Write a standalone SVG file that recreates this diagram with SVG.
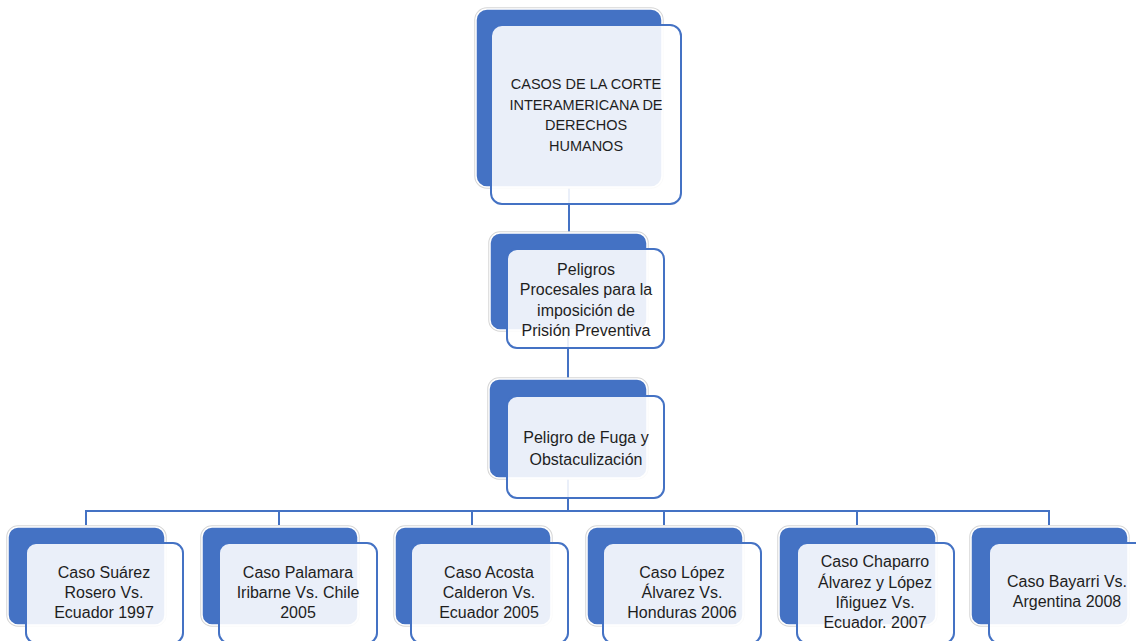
<svg xmlns="http://www.w3.org/2000/svg" width="1136" height="641" viewBox="0 0 1136 641">
<style>
.halo{fill:none;stroke:#d6d6d6;stroke-width:3.5}
.back{fill:#4472C4;stroke:#ffffff;stroke-width:1.5}
.front{fill:#ffffff;fill-opacity:0.89;stroke:#4472C4;stroke-width:2}
.conn{fill:none;stroke:#4472C4;stroke-width:2}
text{font-family:"Liberation Sans",Arial,sans-serif;font-size:16px;fill:#1e1e1e;text-anchor:middle}
.caps{font-size:14.5px}
</style>
<rect width="1136" height="641" fill="#ffffff"/>
<g id="connectors">
<path class="conn" d="M569 187V233"/>
<path class="conn" d="M568 330V379"/>
<path class="conn" d="M568 478V511"/>
<path class="conn" d="M86 525V511H1049V525"/>
<path class="conn" d="M279 511V525M472 511V525M664 511V525M857 511V525"/>
</g>
<g id="n_top">
<rect class="halo" x="476" y="9" width="186" height="178" rx="11"/>
<rect class="back" x="476" y="9" width="186" height="178" rx="11"/>
<rect class="front" x="491" y="25" width="190" height="179" rx="11"/>
<text class="caps" x="586" y="89">CASOS DE LA CORTE</text>
<text class="caps" x="586" y="110">INTERAMERICANA DE</text>
<text class="caps" x="586" y="130">DERECHOS</text>
<text class="caps" x="586" y="151">HUMANOS</text>
</g>
<g id="n_peligros">
<rect class="halo" x="490" y="233" width="157" height="97" rx="10"/>
<rect class="back" x="490" y="233" width="157" height="97" rx="10"/>
<rect class="front" x="507" y="249" width="157" height="99" rx="10"/>
<text x="586" y="275">Peligros</text>
<text x="586" y="295">Procesales para la</text>
<text x="586" y="316">imposición de</text>
<text x="586" y="336">Prisión Preventiva</text>
</g>
<g id="n_fuga">
<rect class="halo" x="489" y="379" width="158" height="99" rx="10"/>
<rect class="back" x="489" y="379" width="158" height="99" rx="10"/>
<rect class="front" x="507" y="396" width="157" height="102" rx="10"/>
<text x="586" y="443">Peligro de Fuga y</text>
<text x="586" y="465">Obstaculización</text>
</g>
<g id="c1">
<rect class="halo" x="8" y="527" width="157" height="98" rx="10"/>
<rect class="back" x="8" y="527" width="157" height="98" rx="10"/>
<rect class="front" x="26" y="543" width="157" height="100" rx="10"/>
<text x="104" y="578">Caso Suárez</text>
<text x="104" y="598">Rosero Vs.</text>
<text x="104" y="618">Ecuador 1997</text>
</g>
<g id="c2">
<rect class="halo" x="202" y="527" width="156" height="98" rx="10"/>
<rect class="back" x="202" y="527" width="156" height="98" rx="10"/>
<rect class="front" x="219" y="543" width="158" height="100" rx="10"/>
<text x="298" y="578">Caso Palamara</text>
<text x="298" y="598">Iribarne Vs. Chile</text>
<text x="298" y="618">2005</text>
</g>
<g id="c3">
<rect class="halo" x="395" y="527" width="156" height="98" rx="10"/>
<rect class="back" x="395" y="527" width="156" height="98" rx="10"/>
<rect class="front" x="411" y="543" width="157" height="100" rx="10"/>
<text x="489" y="578">Caso Acosta</text>
<text x="489" y="598">Calderon Vs.</text>
<text x="489" y="618">Ecuador 2005</text>
</g>
<g id="c4">
<rect class="halo" x="587" y="527" width="156" height="98" rx="10"/>
<rect class="back" x="587" y="527" width="156" height="98" rx="10"/>
<rect class="front" x="603" y="543" width="158" height="100" rx="10"/>
<text x="682" y="578">Caso López</text>
<text x="682" y="598">Álvarez Vs.</text>
<text x="682" y="618">Honduras 2006</text>
</g>
<g id="c5">
<rect class="halo" x="779" y="527" width="157" height="98" rx="10"/>
<rect class="back" x="779" y="527" width="157" height="98" rx="10"/>
<rect class="front" x="797" y="543" width="157" height="100" rx="10"/>
<text x="875" y="567">Caso Chaparro</text>
<text x="875" y="588">Álvarez y López</text>
<text x="875" y="608">Iñiguez Vs.</text>
<text x="875" y="628">Ecuador. 2007</text>
</g>
<g id="c6">
<rect class="halo" x="971" y="527" width="157" height="98" rx="10"/>
<rect class="back" x="971" y="527" width="157" height="98" rx="10"/>
<rect class="front" x="989" y="543" width="158" height="100" rx="10"/>
<text x="1067" y="587">Caso Bayarri Vs.</text>
<text x="1067" y="607">Argentina 2008</text>
</g>
</svg>
